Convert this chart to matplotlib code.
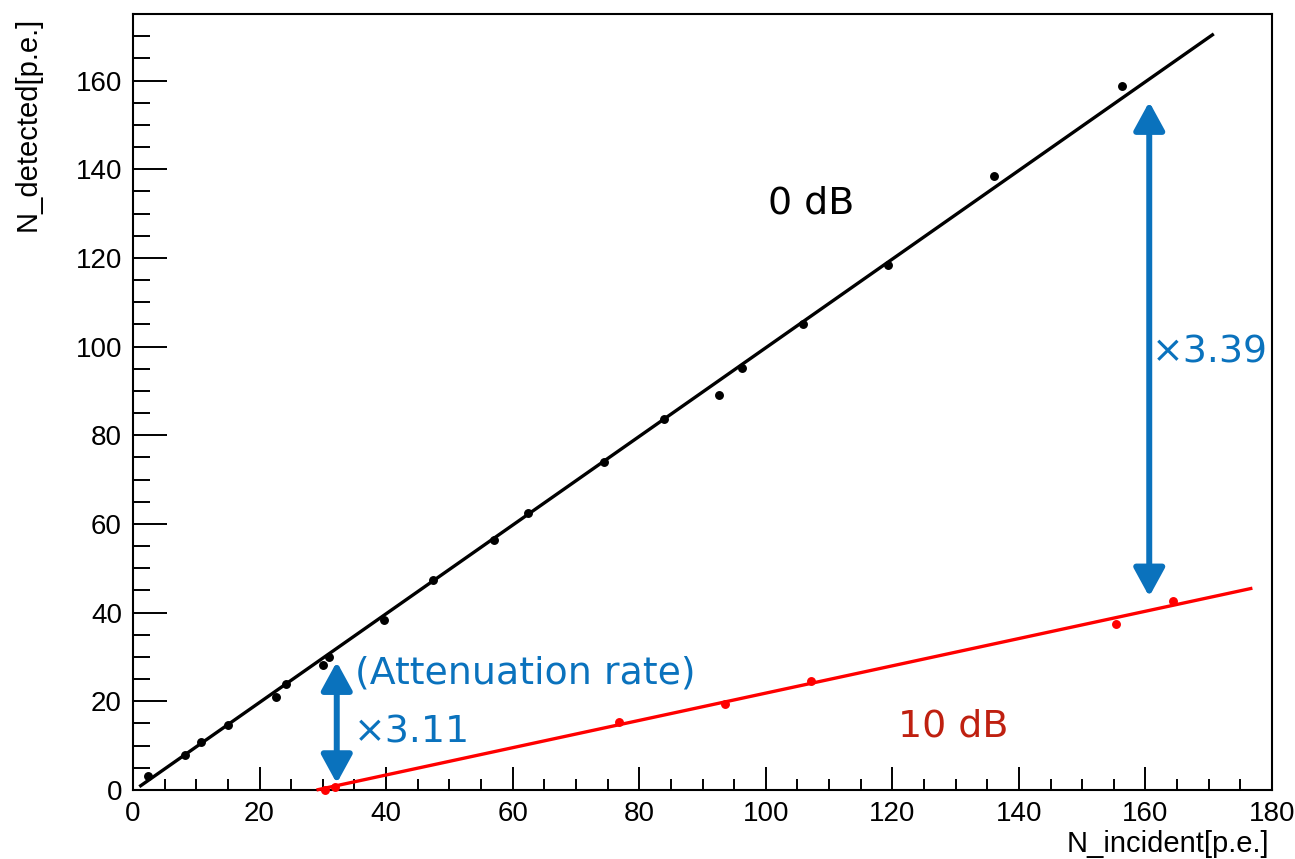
import matplotlib
matplotlib.use("Agg")
import matplotlib.pyplot as plt
from matplotlib.ticker import MultipleLocator
import numpy as np

# Measured photoelectron counts, attenuator 0 dB
incident_0db = [2.4, 8.2, 10.7, 15.0, 22.6, 24.2, 30.0, 31.0, 39.7, 47.4,
                57.0, 62.4, 74.4, 83.9, 92.6, 96.2, 105.9, 119.3, 136.1, 156.3]
detected_0db = [3.2, 7.9, 10.8, 14.7, 21.0, 23.9, 28.2, 30.0, 38.3, 47.3,
                56.4, 62.5, 74.0, 83.7, 89.1, 95.2, 105.1, 118.4, 138.4, 158.7]

# Measured photoelectron counts, attenuator 10 dB
incident_10db = [30.3, 32.0, 76.8, 93.6, 107.1, 155.4, 164.4]
detected_10db = [0.0, 0.6, 15.3, 19.3, 24.6, 37.4, 42.7]

# Linear fit results (slope, intercept) and fit ranges
fit_0db = (0.9998, -0.25)
fit_0db_range = (1.0, 170.8)
fit_10db = (0.3077, -8.92)
fit_10db_range = (29.0, 176.9)

# Attenuation-rate markers: x position, lower and upper ends
ratio_left = (32.2, 1.5, 28.9)
ratio_right = (160.6, 43.6, 155.2)
ratio_left_label = "×3.11"
ratio_right_label = "×3.39"

BLUE = "#0a72bd"
DARK_RED = "#bf2010"

fig = plt.figure(figsize=(12.95, 8.59), dpi=100)
ax = fig.add_axes([133 / 1295, 1 - 790 / 859, 1139 / 1295, 776 / 859])

ax.set_xlim(0, 180)
ax.set_ylim(0, 175)

# data points
ax.plot(incident_0db, detected_0db, "o", color="black", ms=5.4, zorder=4,
        clip_on=False)
ax.plot(incident_10db, detected_10db, "o", color="red", ms=5.4, zorder=4,
        clip_on=False)

# fit lines
for (slope, icpt), (x0, x1), col in [(fit_0db, fit_0db_range, "black"),
                                      (fit_10db, fit_10db_range, "red")]:
    xs = np.array([x0, x1])
    ax.plot(xs, slope * xs + icpt, color=col, lw=2.4, zorder=3,
            solid_capstyle="butt", clip_on=False)

# double-headed attenuation arrows
for xpos, ylo, yhi in (ratio_left, ratio_right):
    ax.annotate("", xy=(xpos, yhi), xytext=(xpos, ylo),
                arrowprops=dict(arrowstyle="<|-|>,head_length=0.86,head_width=0.47",
                                mutation_scale=20, color=BLUE, lw=4.3,
                                shrinkA=0, shrinkB=0), zorder=5)

ann_font = "DejaVu Sans"
ann_size = 27.3
ax.text(100.3, 130.1, "0 dB", fontsize=ann_size, color="black", family=ann_font,
        ha="left", va="baseline")
ax.text(120.9, 12.0, "10 dB", fontsize=ann_size, color=DARK_RED, family=ann_font,
        ha="left", va="baseline")
ax.text(161.0, 96.3, ratio_right_label, fontsize=ann_size, color=BLUE,
        family=ann_font, ha="left", va="baseline")
ax.text(34.9, 10.6, ratio_left_label, fontsize=ann_size, color=BLUE,
        family=ann_font, ha="left", va="baseline")
ax.text(35.1, 24.1, "(Attenuation rate)", fontsize=ann_size, color=BLUE,
        family=ann_font, ha="left", va="baseline")

# ROOT-like axes: inward ticks on bottom/left only
ax.xaxis.set_major_locator(MultipleLocator(20))
ax.xaxis.set_minor_locator(MultipleLocator(5))
ax.yaxis.set_major_locator(MultipleLocator(20))
ax.yaxis.set_minor_locator(MultipleLocator(5))
ax.tick_params(axis="x", which="major", direction="in", length=16.5, width=1.4,
               labelsize=20, pad=8)
ax.tick_params(axis="x", which="minor", direction="in", length=8, width=1.4)
ax.tick_params(axis="y", which="major", direction="in", length=24.5, width=1.4,
               labelsize=20, pad=8)
ax.tick_params(axis="y", which="minor", direction="in", length=12.2, width=1.4)
for lab in ax.get_xticklabels() + ax.get_yticklabels():
    lab.set_family("Liberation Sans")
for sp in ax.spines.values():
    sp.set_linewidth(1.5)

ax.set_xlabel("N_incident[p.e.]", fontsize=21, family="Liberation Sans", loc="right")
ax.xaxis.set_label_coords(0.998, -0.052)
ax.set_ylabel("N_detected[p.e.]", fontsize=21, family="Liberation Sans", loc="top")
ax.yaxis.set_label_coords(-0.080, 0.997)

fig.savefig("out.png", dpi=100)
